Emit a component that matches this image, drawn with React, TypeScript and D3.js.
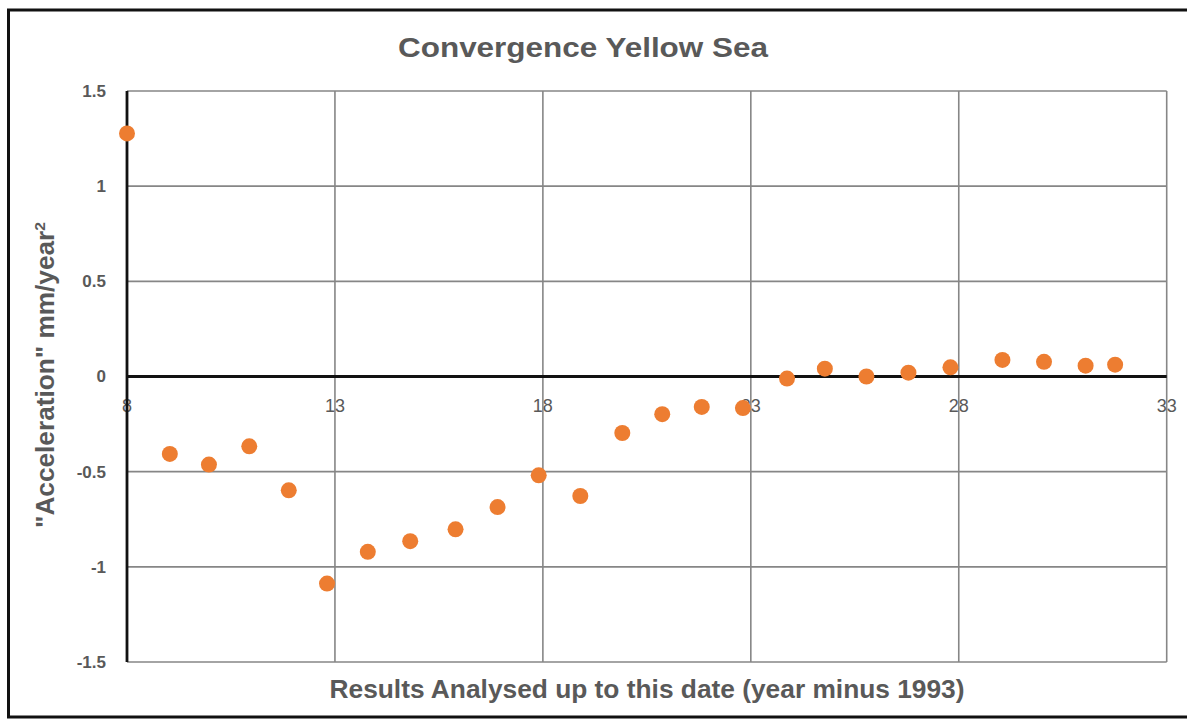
import React from "react";
import * as d3 from "d3";

const xValues = [8, 9.03, 9.97, 10.94, 11.89, 12.81, 13.79, 14.81, 15.9, 16.91, 17.9, 18.9, 19.91, 20.87, 21.82, 22.81, 23.87, 24.78, 25.78, 26.79, 27.8, 29.05, 30.05, 31.05, 31.76];
const yValues = [1.277, -0.407, -0.463, -0.367, -0.598, -1.088, -0.921, -0.865, -0.803, -0.686, -0.519, -0.628, -0.297, -0.198, -0.16, -0.166, -0.011, 0.041, 0.0, 0.02, 0.048, 0.087, 0.077, 0.057, 0.062];
const xTicks = [8, 13, 18, 23, 28, 33];
const yTicks = [-1.5, -1, -0.5, 0, 0.5, 1, 1.5];
const title = "Convergence Yellow Sea";
const xTitle = "Results Analysed up to this date (year minus 1993)";

const W = 1187;
const H = 720;
const plot = { left: 127, right: 1166.7, top: 91, bottom: 662 };

export default function App() {
  const x = d3.scaleLinear().domain([8, 33]).range([plot.left, plot.right]);
  const y = d3.scaleLinear().domain([-1.5, 1.5]).range([plot.bottom, plot.top]);
  const grey = "#595959";
  const gridColor = "#868686";
  const font = "'Liberation Sans', Arial, sans-serif";
  const narrow = "'Liberation Sans Narrow', 'Liberation Sans', Arial, sans-serif";
  const points = xValues.map((v, i) => ({ x: v, y: yValues[i] }));

  return (
    <svg width={W} height={H} style={{ position: "absolute", left: 0, top: 0, background: "#fff" }}>
      <rect x={0} y={0} width={W} height={H} fill="#fff" />
      {/* outer border (left, top, bottom) */}
      <path d={`M1190,10 H8.5 V717 H1190`} fill="none" stroke="#111" strokeWidth={3} />

      <text x={583} y={57} textAnchor="middle" fontFamily={font} fontWeight="bold" fontSize={28} fill={grey} textLength={370} lengthAdjust="spacingAndGlyphs">{title}</text>

      {/* horizontal gridlines */}
      {yTicks.map((t) => (
        <line key={"h" + t} x1={plot.left} x2={plot.right} y1={y(t)} y2={y(t)} stroke={gridColor} strokeWidth={1.6} />
      ))}
      {/* vertical gridlines */}
      {xTicks.map((t) => (
        <line key={"v" + t} x1={x(t)} x2={x(t)} y1={plot.top} y2={plot.bottom} stroke={gridColor} strokeWidth={1.6} />
      ))}

      {/* y tick labels */}
      {yTicks.map((t) => (
        <text key={"yl" + t} x={106} y={y(t)} dy="0.35em" textAnchor="end" fontFamily={font} fontWeight="bold" fontSize={17} fill={grey}>{String(t)}</text>
      ))}
      {/* x tick labels */}
      {xTicks.map((t) => (
        <text key={"xl" + t} x={x(t)} y={406} dy="0.35em" textAnchor="middle" fontFamily={narrow} fontSize={18} fill={grey}>{String(t)}</text>
      ))}

      {/* axis lines */}
      <line x1={plot.left} x2={plot.left} y1={plot.top} y2={plot.bottom} stroke="#111" strokeWidth={2.8} />
      <line x1={plot.left} x2={plot.right} y1={y(0)} y2={y(0)} stroke="#111" strokeWidth={3} />

      {/* points */}
      {points.map((p, i) => (
        <circle key={i} cx={x(p.x)} cy={y(p.y)} r={8} fill="#ED7D31" />
      ))}

      {/* axis titles */}
      <text transform={`translate(54,375) rotate(-90)`} textAnchor="middle" fontFamily={font} fontWeight="bold" fontSize={25} fill={grey} textLength={306} lengthAdjust="spacingAndGlyphs">
        "Acceleration" mm/year<tspan dy={-9} fontSize={15}>2</tspan>
      </text>
      <text x={647} y={698} textAnchor="middle" fontFamily={narrow} fontWeight="bold" fontSize={25} fill={grey} textLength={635} lengthAdjust="spacingAndGlyphs">{xTitle}</text>
    </svg>
  );
}
